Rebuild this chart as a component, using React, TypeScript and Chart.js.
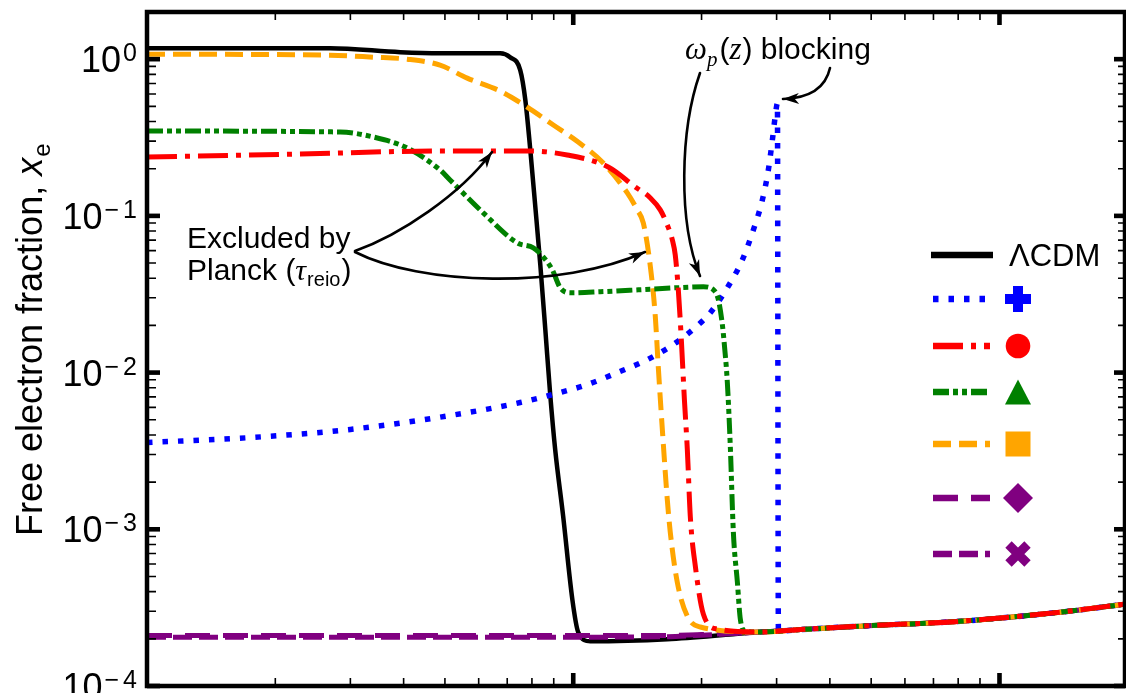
import React, { useEffect, useRef } from 'react';
import { Chart, registerables } from 'chart.js';

Chart.register(...registerables);

// ---------- data (x = scale factor a, y = free electron fraction x_e) ----------
const tailA = [3.412e-3, 4.718e-3, 8.1e-3, 1.391e-2, 1.97e-2];
const tailXe = [2.29e-4, 2.41e-4, 2.59e-4, 2.96e-4, 3.33e-4];

const lcdmA = [1.0e-4, 2.69e-4, 3.93e-4, 4.87e-4, 6.74e-4, 7.11e-4, 7.51e-4, 7.72e-4, 7.93e-4, 8.14e-4, 8.37e-4, 8.6e-4, 8.83e-4, 9.07e-4, 9.47e-4, 9.95e-4, 1.027e-3, 1.096e-3, 1.662e-3, 2.375e-3, 2.748e-3];
const lcdmXe = [1.175, 1.175, 1.108, 1.092, 1.092, 1.03, 0.851, 0.548, 0.263, 0.1175, 0.0487, 0.0188, 0.00724, 0.00323, 0.00121, 3.58e-4, 2.21e-4, 1.93e-4, 1.99e-4, 2.14e-4, 2.21e-4];

const blueA = [1.0e-4, 1.75e-4, 3.0e-4, 5.14e-4, 7.51e-4, 9.32e-4, 1.079e-3, 1.269e-3, 1.492e-3, 1.717e-3, 1.966e-3, 2.097e-3, 2.299e-3, 2.493e-3, 2.646e-3, 2.778e-3, 2.869e-3, 2.932e-3, 2.98e-3, 3.013e-3, 3.029e-3];
const blueXe = [3.58e-3, 3.85e-3, 4.34e-3, 5.32e-3, 6.44e-3, 7.46e-3, 8.39e-3, 1.0e-2, 1.21e-2, 1.51e-2, 2.02e-2, 2.41e-2, 3.48e-2, 5.24e-2, 8.14e-2, 0.1264, 0.1963, 0.305, 0.44, 0.524, 2.24e-4];

const redA = [1.0e-4, 2.29e-4, 4.87e-4, 7.93e-4, 9.68e-4, 1.208e-3, 1.398e-3, 1.517e-3, 1.6e-3, 1.662e-3, 1.708e-3, 1.735e-3, 1.764e-3, 1.793e-3, 1.823e-3, 1.852e-3, 1.882e-3, 1.934e-3, 2.02e-3, 2.178e-3, 2.748e-3];
const redXe = [0.2375, 0.2482, 0.2594, 0.2594, 0.2446, 0.2051, 0.153, 0.1302, 0.1092, 0.0876, 0.0703, 0.0564, 0.0338, 0.01623, 6.73e-3, 3.23e-3, 1.21e-3, 5.81e-4, 2.87e-4, 2.31e-4, 2.21e-4];

const greenA = [1.0e-4, 2.84e-4, 3.39e-4, 4.08e-4, 4.87e-4, 5.14e-4, 6.15e-4, 7.39e-4, 8.06e-4, 8.5e-4, 8.93e-4, 9.32e-4, 9.84e-4, 1.157e-3, 1.437e-3, 1.754e-3, 2.02e-3, 2.131e-3, 2.19e-3, 2.238e-3, 2.262e-3, 2.299e-3, 2.336e-3, 2.375e-3, 2.427e-3, 2.466e-3, 2.534e-3, 2.748e-3];
const greenXe = [0.348, 0.343, 0.319, 0.271, 0.1963, 0.1696, 0.1045, 0.0673, 0.0625, 0.0548, 0.0453, 0.0348, 0.0323, 0.0328, 0.0338, 0.0348, 0.0353, 0.0338, 0.0292, 0.0202, 0.0151, 8.64e-3, 3.38e-3, 9.57e-4, 4.6e-4, 2.67e-4, 2.24e-4, 2.21e-4];

const orangeA = [1.0e-4, 2.69e-4, 3.39e-4, 4.08e-4, 4.87e-4, 5.64e-4, 6.74e-4, 7.8e-4, 8.98e-4, 1.027e-3, 1.176e-3, 1.339e-3, 1.413e-3, 1.46e-3, 1.517e-3, 1.558e-3, 1.583e-3, 1.627e-3, 1.662e-3, 1.689e-3, 1.754e-3, 1.852e-3, 1.987e-3, 2.748e-3];
const orangeXe = [1.076, 1.06, 1.03, 1.0, 0.916, 0.757, 0.6255, 0.4946, 0.38, 0.296, 0.2176, 0.1401, 0.1092, 0.0902, 0.0473, 0.0227, 0.0109, 3.48e-3, 1.55e-3, 9.57e-4, 4.6e-4, 2.79e-4, 2.38e-4, 2.21e-4];

const purpleA = [1.0e-4, 3.0e-4, 1.0e-3, 1.6e-3, 2.0e-3, 2.748e-3];
const diamondXe = [2.1e-4, 2.1e-4, 2.1e-4, 2.1e-4, 2.13e-4, 2.21e-4];
const crossXe = [2.05e-4, 2.05e-4, 2.05e-4, 2.06e-4, 2.11e-4, 2.21e-4];

const yTickValues = [1, 1e-1, 1e-2, 1e-3, 1e-4];
const yTickExponents = ['0', '−1', '−2', '−3', '−4'];
const xMajorValues = [1e-3, 1e-2];

// ---------- layout / style ----------
const W = 1150;
const H = 720;
const SANS = '"Liberation Sans", Arial, Helvetica, sans-serif';
const SERIF = '"Liberation Serif", "Times New Roman", serif';

type Series = { name: string; a: number[]; xe: number[]; color: string; width: number; dash: number[]; marker: string; order: number };

const series: Series[] = [
  { name: 'ΛCDM', a: lcdmA, xe: lcdmXe, color: '#000000', width: 4.5, dash: [], marker: 'none', order: 6 },
  { name: 'plus', a: blueA, xe: blueXe, color: '#0000FF', width: 5.5, dash: [5.5, 10], marker: 'plus', order: 5 },
  { name: 'circle', a: redA, xe: redXe, color: '#FF0000', width: 5, dash: [30, 8, 5, 8], marker: 'circle', order: 0 },
  { name: 'triangle', a: greenA, xe: greenXe, color: '#008000', width: 5, dash: [16, 4, 5, 4, 5, 4], marker: 'triangle', order: 1 },
  { name: 'square', a: orangeA, xe: orangeXe, color: '#FFA500', width: 5, dash: [18, 8], marker: 'square', order: 2 },
  { name: 'diamond', a: purpleA, xe: diamondXe, color: '#800080', width: 5, dash: [25, 13], marker: 'diamond', order: 3 },
  { name: 'cross', a: purpleA, xe: crossXe, color: '#800080', width: 5, dash: [19, 7], marker: 'cross', order: 4 },
];

const legendRowsY = [255, 299, 346, 392, 444, 498, 554];

function arrowHead(ctx: CanvasRenderingContext2D, tx: number, ty: number, fx: number, fy: number) {
  const ang = Math.atan2(ty - fy, tx - fx);
  const L = 16;
  const hw = 5.5;
  ctx.save();
  ctx.translate(tx, ty);
  ctx.rotate(ang);
  ctx.beginPath();
  ctx.moveTo(0, 0);
  ctx.lineTo(-L, -hw);
  ctx.lineTo(-L * 0.72, 0);
  ctx.lineTo(-L, hw);
  ctx.closePath();
  ctx.fill();
  ctx.restore();
}

function curveArrow(ctx: CanvasRenderingContext2D, p: number[]) {
  const [x0, y0, c1x, c1y, c2x, c2y, x1, y1] = p;
  ctx.beginPath();
  ctx.moveTo(x0, y0);
  ctx.bezierCurveTo(c1x, c1y, c2x, c2y, x1, y1);
  ctx.stroke();
  arrowHead(ctx, x1, y1, c2x, c2y);
}

function drawMarker(ctx: CanvasRenderingContext2D, kind: string, cx: number, cy: number, color: string) {
  ctx.save();
  ctx.fillStyle = color;
  ctx.strokeStyle = color;
  if (kind === 'plus') {
    ctx.fillRect(cx - 13, cy - 5, 26, 10);
    ctx.fillRect(cx - 5, cy - 13, 10, 26);
  } else if (kind === 'circle') {
    ctx.beginPath();
    ctx.arc(cx, cy, 12.3, 0, Math.PI * 2);
    ctx.fill();
  } else if (kind === 'triangle') {
    ctx.beginPath();
    ctx.moveTo(cx, cy - 12.5);
    ctx.lineTo(cx + 13, cy + 12.5);
    ctx.lineTo(cx - 13, cy + 12.5);
    ctx.closePath();
    ctx.fill();
  } else if (kind === 'square') {
    ctx.fillRect(cx - 12.5, cy - 12.5, 25, 25);
  } else if (kind === 'diamond') {
    ctx.beginPath();
    ctx.moveTo(cx, cy - 15);
    ctx.lineTo(cx + 15, cy);
    ctx.lineTo(cx, cy + 15);
    ctx.lineTo(cx - 15, cy);
    ctx.closePath();
    ctx.fill();
  } else if (kind === 'cross') {
    ctx.lineWidth = 9;
    ctx.lineCap = 'butt';
    ctx.beginPath();
    ctx.moveTo(cx - 9.5, cy - 9.5);
    ctx.lineTo(cx + 9.5, cy + 9.5);
    ctx.moveTo(cx + 9.5, cy - 9.5);
    ctx.lineTo(cx - 9.5, cy + 9.5);
    ctx.stroke();
  }
  ctx.restore();
}

const decorPlugin = {
  id: 'decor',
  afterDatasetsDraw(chart: any) {
    const ctx: CanvasRenderingContext2D = chart.ctx;
    const { left, right, top, bottom } = chart.chartArea;
    const xs = chart.scales.x;
    const ys = chart.scales.y;
    ctx.save();
    ctx.fillStyle = '#000';
    ctx.strokeStyle = '#000';

    // frame
    ctx.lineWidth = 4.5;
    ctx.strokeRect(left, top, right - left, bottom - top);

    // y ticks (left + right, pointing inward)
    for (let e = -4; e <= 0; e++) {
      const base = Math.pow(10, e);
      const py = ys.getPixelForValue(base);
      ctx.fillRect(left, py - 2.3, 13, 4.6);
      ctx.fillRect(right - 11, py - 2.3, 11, 4.6);
      ctx.lineWidth = 1.6;
      for (let m = 2; m <= 9; m++) {
        const v = m * base;
        if (v > ys.max) break;
        const p = ys.getPixelForValue(v);
        ctx.beginPath();
        ctx.moveTo(left, p);
        ctx.lineTo(left + 9, p);
        ctx.moveTo(right - 7, p);
        ctx.lineTo(right, p);
        ctx.stroke();
      }
    }
    // x ticks (bottom + top, pointing inward)
    for (let e = -4; e <= -2; e++) {
      const base = Math.pow(10, e);
      if (xMajorValues.indexOf(base) >= 0 || e === -4) {
        const px = xs.getPixelForValue(base);
        if (px > left + 2) {
          ctx.fillRect(px - 2.3, bottom - 13, 4.6, 13);
          ctx.fillRect(px - 2.3, top, 4.6, 13);
        }
      }
      ctx.lineWidth = 1.6;
      for (let m = 2; m <= 9; m++) {
        const v = m * base;
        if (v > xs.max) break;
        const p = xs.getPixelForValue(v);
        ctx.beginPath();
        ctx.moveTo(p, bottom);
        ctx.lineTo(p, bottom - 8);
        ctx.moveTo(p, top);
        ctx.lineTo(p, top + 8);
        ctx.stroke();
      }
    }

    // y tick labels 10^n
    ctx.textBaseline = 'alphabetic';
    ctx.textAlign = 'left';
    const labelRight = 137;
    yTickValues.forEach((v, i) => {
      const py = ys.getPixelForValue(v);
      const ex = yTickExponents[i];
      ctx.font = `25px ${SANS}`;
      let expW = 0;
      const hasMinus = ex.startsWith('−');
      const digit = hasMinus ? ex.slice(1) : ex;
      const dW = ctx.measureText(digit).width;
      const mW = hasMinus ? ctx.measureText('−').width + 4 : 0;
      expW = dW + mW;
      const ex0 = labelRight - expW;
      if (hasMinus) ctx.fillText('−', ex0, py + 2);
      ctx.fillText(digit, ex0 + mW, py + 2);
      ctx.font = `36px ${SANS}`;
      const tw = ctx.measureText('10').width;
      ctx.fillText('10', ex0 - 2 - tw, py + 13);
    });

    // y axis title
    ctx.save();
    ctx.translate(42, 536);
    ctx.rotate(-Math.PI / 2);
    ctx.font = `36px ${SANS}`;
    const t1 = 'Free electron fraction, ';
    ctx.fillText(t1, 0, 0);
    let tx = ctx.measureText(t1).width;
    ctx.font = `italic 36px ${SANS}`;
    ctx.fillText('x', tx, 0);
    tx += ctx.measureText('x').width;
    ctx.font = `24px ${SANS}`;
    ctx.fillText('e', tx + 1, 8);
    ctx.restore();

    // legend
    series.forEach((s, i) => {
      const y = legendRowsY[i];
      ctx.save();
      ctx.strokeStyle = s.color;
      ctx.lineCap = 'butt';
      ctx.lineWidth = 6.5;
      ctx.setLineDash(s.dash);
      ctx.lineDashOffset = 0;
      ctx.beginPath();
      if (s.marker === 'none') {
        ctx.moveTo(931, y);
        ctx.lineTo(993, y);
      } else {
        ctx.moveTo(933, y);
        ctx.lineTo(990, y);
      }
      ctx.stroke();
      ctx.restore();
      if (s.marker === 'none') {
        ctx.font = `31px ${SANS}`;
        ctx.fillStyle = '#000';
        ctx.fillText(s.name, 1009, y + 11);
      } else {
        drawMarker(ctx, s.marker, 1018, y, s.color);
      }
    });

    // annotations
    ctx.fillStyle = '#000';
    ctx.strokeStyle = '#000';
    ctx.setLineDash([]);
    ctx.font = `30px ${SANS}`;
    ctx.fillText('Excluded by', 187, 248);
    let ax = 187;
    ctx.fillText('Planck (', ax, 280);
    ax += ctx.measureText('Planck (').width;
    ctx.font = `italic 30px ${SERIF}`;
    ctx.fillText('τ', ax, 280);
    ax += ctx.measureText('τ').width + 1;
    ctx.font = `20px ${SANS}`;
    ctx.fillText('reio', ax, 286);
    ax += ctx.measureText('reio').width + 1;
    ctx.font = `30px ${SANS}`;
    ctx.fillText(')', ax, 280);

    let bx = 685;
    const by = 59;
    ctx.font = `italic 31px ${SERIF}`;
    ctx.fillText('ω', bx, by);
    bx += ctx.measureText('ω').width;
    ctx.font = `italic 21px ${SERIF}`;
    ctx.fillText('p', bx, by + 7);
    bx += ctx.measureText('p').width + 2;
    ctx.font = `30px ${SANS}`;
    ctx.fillText('(', bx, by);
    bx += ctx.measureText('(').width;
    ctx.font = `italic 31px ${SERIF}`;
    ctx.fillText('z', bx, by);
    bx += ctx.measureText('z').width + 1;
    ctx.font = `30px ${SANS}`;
    ctx.fillText(') blocking', bx, by);

    ctx.lineWidth = 2.6;
    ctx.lineCap = 'round';
    curveArrow(ctx, [355, 251, 400, 235, 460, 195, 492, 152]);
    curveArrow(ctx, [355, 252, 420, 285, 560, 290, 645, 252]);
    curveArrow(ctx, [700, 73, 680, 130, 678, 222, 700, 276]);
    curveArrow(ctx, [830, 68, 826, 86, 812, 98, 783, 99]);

    ctx.restore();
  },
};

function toPoints(a: number[], xe: number[], withTail: boolean) {
  const pts = a.map((v, i) => ({ x: v, y: xe[i] }));
  if (withTail) tailA.forEach((v, i) => pts.push({ x: v, y: tailXe[i] }));
  return pts;
}

export default function App() {
  const ref = useRef<HTMLCanvasElement | null>(null);
  useEffect(() => {
    if (!ref.current) return;
    const chart = new Chart(ref.current, {
      type: 'line',
      data: {
        datasets: series.map((s) => ({
          label: s.name,
          data: toPoints(s.a, s.xe, true),
          borderColor: s.color,
          backgroundColor: s.color,
          borderWidth: s.width,
          borderDash: s.dash,
          borderCapStyle: 'butt',
          borderJoinStyle: 'round',
          cubicInterpolationMode: 'monotone',
          pointRadius: 0,
          pointHoverRadius: 0,
          fill: false,
          order: s.order,
        })),
      },
      options: {
        responsive: false,
        animation: false,
        devicePixelRatio: 1,
        events: [],
        layout: { padding: { left: 147, top: 12, right: W - 1125, bottom: H - 686 } },
        plugins: { legend: { display: false }, tooltip: { enabled: false } },
        scales: {
          x: { type: 'logarithmic', min: 1e-4, max: 0.0197, display: false },
          y: { type: 'logarithmic', min: 1e-4, max: 2, display: false },
        },
      },
      plugins: [decorPlugin],
    } as any);
    return () => chart.destroy();
  }, []);
  return (
    <div style={{ position: 'fixed', left: 0, top: 0, width: 1126, height: 693, overflow: 'hidden', background: '#fff' }}>
      <canvas ref={ref} width={W} height={H} style={{ display: 'block', width: W, height: H }} />
    </div>
  );
}
